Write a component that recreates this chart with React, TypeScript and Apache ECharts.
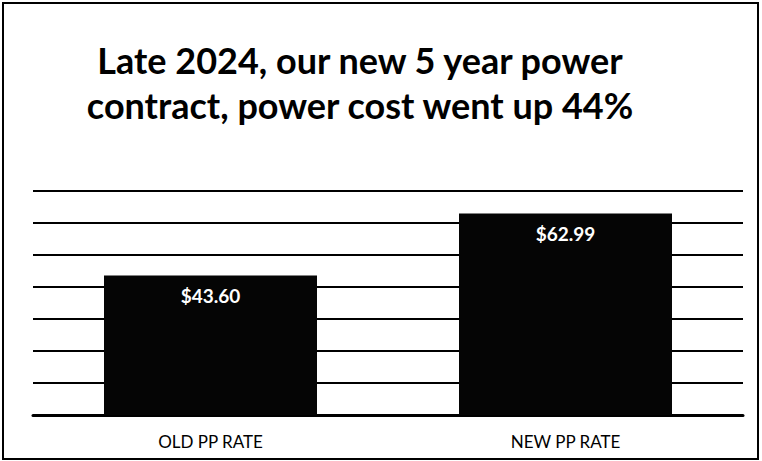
import React, { useEffect, useRef } from "react";
import * as echarts from "echarts";

const categories = ["OLD PP RATE", "NEW PP RATE"];
const rates = [43.6, 62.99];
const titleLines = ["Late 2024, our new 5 year power", "contract, power cost went up 44%"];
const yMax = 70;
const yStep = 10;

export default function App() {
  const ref = useRef<HTMLDivElement>(null);
  useEffect(() => {
    document.body.style.margin = "0";
    const chart = echarts.init(ref.current!, undefined, { renderer: "svg" });
    chart.setOption({
      animation: false,
      backgroundColor: "#ffffff",
      grid: { left: 33, right: 19, top: 191, bottom: 46, containLabel: false },
      xAxis: {
        type: "category",
        data: categories,
        axisLine: { lineStyle: { color: "#000", width: 3 } },
        axisTick: { show: false },
        axisLabel: {
          color: "#000",
          fontFamily: "Lato, 'Open Sans', sans-serif",
          fontSize: 17,
          margin: 18,
        },
      },
      yAxis: {
        type: "value",
        min: 0,
        max: yMax,
        interval: yStep,
        axisLabel: { show: false },
        axisLine: { show: false },
        axisTick: { show: false },
        splitLine: { lineStyle: { color: "#000", width: 2 } },
      },
      series: [
        {
          type: "bar",
          data: rates,
          barWidth: "60%",
          itemStyle: { color: "#050505" },
          label: {
            show: true,
            position: "insideTop",
            distance: 11,
            color: "#fff",
            fontWeight: "bold",
            fontFamily: "Lato, 'Open Sans', sans-serif",
            fontSize: 19,
            formatter: (p: any) => "$" + Number(p.value).toFixed(2),
          },
        },
      ],
      graphic: [
        {
          type: "rect",
          shape: { x: 3, y: 3, width: 755, height: 456 },
          style: { fill: "none", stroke: "#000", lineWidth: 2 },
          silent: true,
        },
        {
          type: "text",
          x: 360,
          y: 60,
          style: {
            text: titleLines[0],
            textAlign: "center",
            textVerticalAlign: "middle",
            fill: "#000",
            fontFamily: "Lato, 'Open Sans', sans-serif",
            fontWeight: "bold",
            fontSize: 36,
          },
        },
        {
          type: "text",
          x: 360,
          y: 105,
          style: {
            text: titleLines[1],
            textAlign: "center",
            textVerticalAlign: "middle",
            fill: "#000",
            fontFamily: "Lato, 'Open Sans', sans-serif",
            fontWeight: "bold",
            fontSize: 36,
          },
        },
      ],
    });
    return () => chart.dispose();
  }, []);
  return (
    <div
      ref={ref}
      style={{ position: "absolute", left: 0, top: 0, width: 762, height: 461 }}
    />
  );
}
